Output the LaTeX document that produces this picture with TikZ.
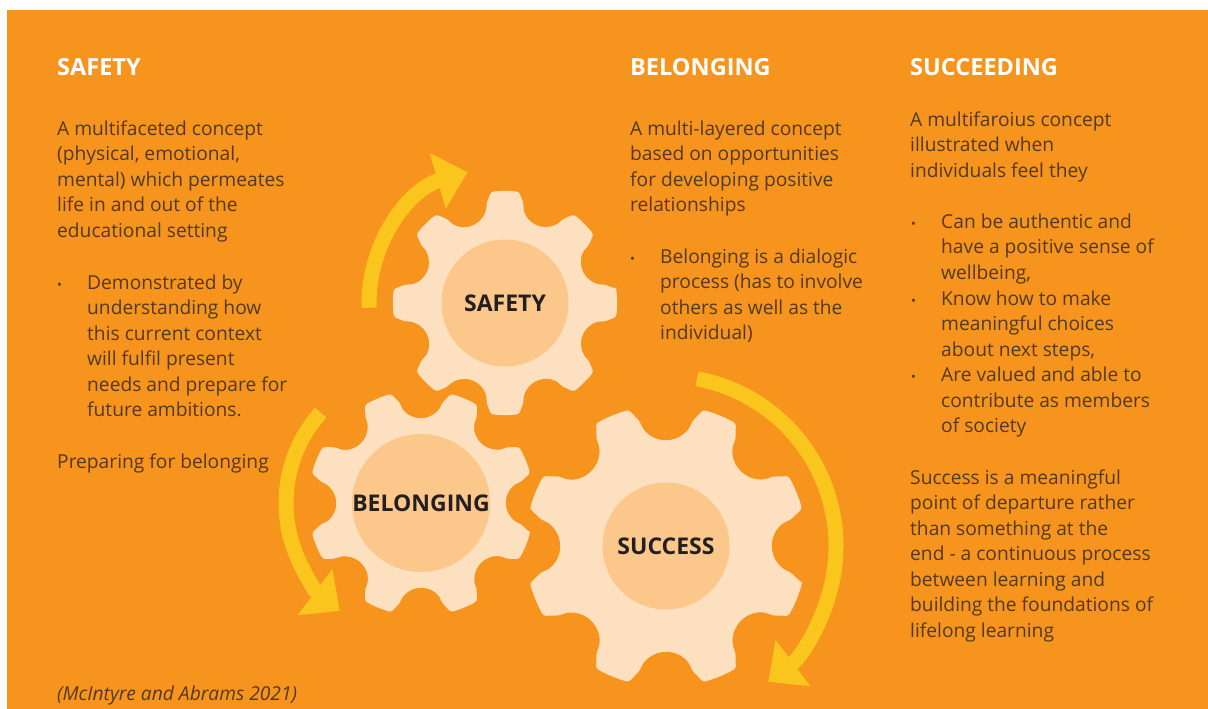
\documentclass[tikz,border=0pt]{standalone}
\usepackage{fontspec}
\setmainfont{Open Sans}
\usepackage{tikz}
\usetikzlibrary{arrows.meta}

\definecolor{bgorange}{RGB}{247,148,30}
\definecolor{gearpale}{RGB}{253,224,192}
\definecolor{hubtan}{RGB}{251,199,138}
\definecolor{arrowyellow}{RGB}{250,198,30}
\definecolor{bodytext}{RGB}{82,58,34}
\definecolor{labeltext}{RGB}{35,31,32}

\tikzset{
    gear/.style={fill=gearpale, rounded corners=2.5pt},
    hub/.style={circle, fill=hubtan, minimum size=127pt, inner sep=0pt, text=labeltext, font=\fontsize{23}{28}\selectfont\bfseries},
    heading/.style={anchor=base west, inner sep=0pt, text=white, font=\fontsize{23.5}{28}\selectfont\bfseries},
    % body texts are placed at the baseline of their last line
    body/.style={anchor=base west, inner sep=0pt, align=left, text=bodytext, font=\fontsize{19.2}{25.5}\selectfont},
    bulletmark/.style={anchor=base west, inner sep=0pt, text=bodytext, font=\fontsize{13}{13}\selectfont},
    cyclearrow/.style={draw=arrowyellow, line width=15pt, -{Triangle[length=31pt, width=56pt]}}
}

\begin{document}
\begin{tikzpicture}[x=1pt, y=-1pt]
        \useasboundingbox (0,0) rectangle (1208,709);
        \fill[white] (0,0) rectangle (1208,709);
        \fill[bgorange] (7,10) rectangle (1208,709);

        % gears: centre x / centre y / outer radius / rotation
        \foreach \gx/\gy/\gr/\rot in {505/303/112/0, 421/503/113/22.5, 666/546/141/22.5}
            \fill[gear, shift={(\gx,\gy)}] (\rot-7.2:\gr)
                \foreach \k in {0,...,7} {
                    arc[start angle=\rot+45*\k-7.2, end angle=\rot+45*\k+7.2, radius=\gr]
                    -- (\rot+45*\k+10.64:0.901*\gr)
                    arc[start angle=\rot+45*\k-86.5, end angle=\rot+45*\k-228.5, radius=0.196*\gr]
                    -- (\rot+45*\k+37.8:\gr)
                } -- cycle;

        \node[hub] (safety) at (505,303) {SAFETY};
        \node[hub] (belonging) at (421,503) {BELONGING};
        \node[hub] (success) at (666,546) {SUCCESS};

        \draw[cyclearrow] ([shift={(178:136)}]safety.center) arc[start angle=178, end angle=254, radius=136];
        \draw[cyclearrow] ([shift={(222:135)}]belonging.center) arc[start angle=222, end angle=127, radius=135];
        \draw[cyclearrow] ([shift={(-79.5:170)}]success.center) arc[start angle=-79.5, end angle=53, radius=170];

        % left column
        \node[heading] (safetyhead) at (57,76) {SAFETY};
        \node[body] (safetytext) at (57,237) {A multifaceted concept\\(physical, emotional,\\mental) which permeates\\life in and out of the\\educational setting};
        \node[bulletmark] (safetydot) at (57,289) {•};
        \node[body] (safetyitem) at (87,416.5) {Demonstrated by\\understanding how\\this current context\\will fulfil present\\needs and prepare for\\future ambitions.};
        \node[body] (safetyprep) at (57,468) {Preparing for belonging};

        % middle column
        \node[heading] (belonghead) at (630,75) {BELONGING};
        \node[body] (belongtext) at (630,211.5) {A multi-layered concept\\based on opportunities\\for developing positive\\relationships};
        \node[bulletmark] (belongdot) at (630,263) {•};
        \node[body] (belongitem) at (660,339.5) {Belonging is a dialogic\\process (has to involve\\others as well as the\\individual)};

        % right column
        \node[heading] (succeedhead) at (910,75) {SUCCEEDING};
        \node[body] (succeedtext) at (910,177) {A multifaroius concept\\illustrated when\\individuals feel they};
        \node[bulletmark] (succeeddota) at (911,228) {•};
        \node[body] (succeeditema) at (941,279) {Can be authentic and\\have a positive sense of\\wellbeing,};
        \node[bulletmark] (succeeddotb) at (911,305) {•};
        \node[body] (succeeditemb) at (941,356) {Know how to make\\meaningful choices\\about next steps,};
        \node[bulletmark] (succeeddotc) at (911,381.5) {•};
        \node[body] (succeeditemc) at (941,432.5) {Are valued and able to\\contribute as members\\of society};
        \node[body] (succeedend) at (910,637) {Success is a meaningful\\point of departure rather\\than something at the\\end - a continuous process\\between learning and\\building the foundations of\\lifelong learning};

        \node[body, font=\fontsize{19.2}{25.5}\selectfont\itshape] (citation) at (57,700) {(McIntyre and Abrams 2021)};
\end{tikzpicture}
\end{document}
